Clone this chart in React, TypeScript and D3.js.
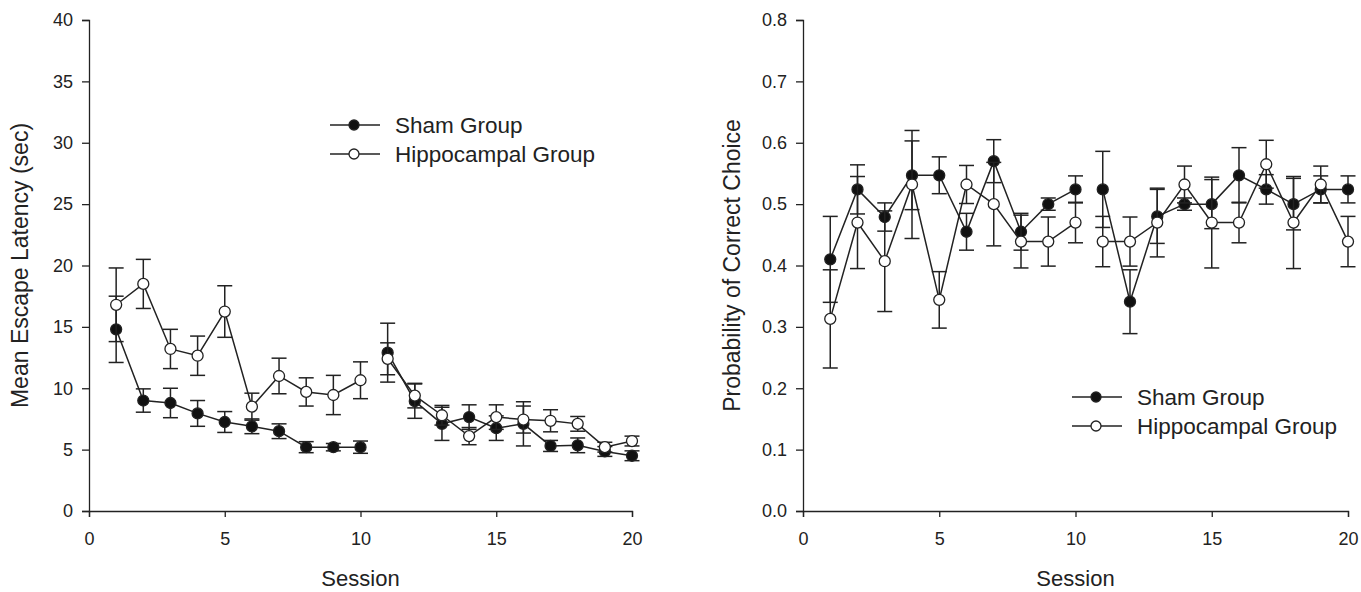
import React, { useEffect, useRef } from "react";
import * as d3 from "d3";

const sessions = [1, 2, 3, 4, 5, 6, 7, 8, 9, 10, 11, 12, 13, 14, 15, 16, 17, 18, 19, 20];

const shamLatency = [14.8, 9.0, 8.8, 7.95, 7.25, 6.9, 6.5, 5.2, 5.2, 5.2, 12.9, 8.95, 7.1, 7.65, 6.75, 7.1, 5.3, 5.35, 4.85, 4.5];
const shamLatencySE = [2.7, 0.95, 1.2, 1.05, 0.85, 0.6, 0.6, 0.45, 0.3, 0.5, 2.4, 1.4, 1.35, 1.0, 1.0, 1.8, 0.45, 0.6, 0.4, 0.4];
const hippoLatency = [16.8, 18.5, 13.2, 12.65, 16.25, 8.5, 11.0, 9.7, 9.45, 10.65, 12.4, 9.4, 7.8, 6.1, 7.65, 7.45, 7.35, 7.1, 5.2, 5.7];
const hippoLatencySE = [3.0, 2.0, 1.6, 1.6, 2.1, 1.1, 1.45, 1.15, 1.6, 1.5, 1.3, 1.0, 0.8, 0.7, 1.0, 1.1, 0.9, 0.6, 0.4, 0.4];

const shamProb = [0.41, 0.524, 0.479, 0.547, 0.547, 0.455, 0.57, 0.455, 0.5, 0.524, 0.524, 0.341, 0.48, 0.5, 0.5, 0.547, 0.524, 0.5, 0.524, 0.524];
const shamProbSE = [0.07, 0.04, 0.023, 0.056, 0.03, 0.03, 0.035, 0.03, 0.01, 0.022, 0.062, 0.052, 0.044, 0.01, 0.04, 0.045, 0.024, 0.042, 0.022, 0.022];
const hippoProb = [0.313, 0.47, 0.407, 0.532, 0.344, 0.532, 0.5, 0.439, 0.439, 0.47, 0.439, 0.439, 0.47, 0.532, 0.47, 0.47, 0.565, 0.47, 0.532, 0.439];
const hippoProbSE = [0.08, 0.075, 0.082, 0.088, 0.046, 0.031, 0.068, 0.043, 0.04, 0.033, 0.041, 0.04, 0.056, 0.03, 0.074, 0.033, 0.039, 0.075, 0.03, 0.041];

const xTicks = [0, 5, 10, 15, 20];
const latencyTicks = [0, 5, 10, 15, 20, 25, 30, 35, 40];
const probTicks = [0, 0.1, 0.2, 0.3, 0.4, 0.5, 0.6, 0.7, 0.8];
const legendLabels = ["Sham Group", "Hippocampal Group"];

const INK = "#222";
const FONT = "'Liberation Sans', Arial, sans-serif";

type Panel = {
  left: number;
  right: number;
  yMax: number;
  yTicks: number[];
  yFormat: (d: number) => string;
  yTitle: string;
  sham: number[];
  shamSE: number[];
  hippo: number[];
  hippoSE: number[];
  legendX: number;
  legendY: number;
  titleX: number;
};

const App = () => {
  const ref = useRef<SVGSVGElement>(null);

  useEffect(() => {
    const svg = d3.select(ref.current);
    svg.selectAll("*").remove();

    const top = 20;
    const bottom = 511;

    const panels: Panel[] = [
      {
        left: 89, right: 632, yMax: 40, yTicks: latencyTicks,
        yFormat: (d) => String(d), yTitle: "Mean Escape Latency (sec)",
        sham: shamLatency, shamSE: shamLatencySE, hippo: hippoLatency, hippoSE: hippoLatencySE,
        legendX: 330, legendY: 125, titleX: 22,
      },
      {
        left: 803, right: 1348, yMax: 0.8, yTicks: probTicks,
        yFormat: d3.format(".1f"), yTitle: "Probability of Correct Choice",
        sham: shamProb, shamSE: shamProbSE, hippo: hippoProb, hippoSE: hippoProbSE,
        legendX: 1072, legendY: 397, titleX: 734,
      },
    ];

    panels.forEach((p) => {
      const x = d3.scaleLinear().domain([0, 20]).range([p.left, p.right]);
      const y = d3.scaleLinear().domain([0, p.yMax]).range([bottom, top]);
      const g = svg.append("g");

      // axes
      const xAxis = g
        .append("g")
        .attr("transform", `translate(0, ${bottom})`)
        .call(d3.axisBottom(x).tickValues(xTicks).tickSizeOuter(0).tickSize(6).tickPadding(15));
      const yAxis = g
        .append("g")
        .attr("transform", `translate(${p.left}, 0)`)
        .call(d3.axisLeft(y).tickValues(p.yTicks).tickFormat(p.yFormat as any).tickSizeOuter(0).tickSize(7).tickPadding(9));
      [xAxis, yAxis].forEach((a) => {
        a.selectAll("path, line").attr("stroke", INK).attr("stroke-width", 1.3);
        a.selectAll("text").attr("fill", INK).attr("font-size", 18).attr("font-family", FONT);
      });

      g.append("text")
        .attr("x", (p.left + p.right) / 2)
        .attr("y", 586)
        .attr("text-anchor", "middle")
        .attr("font-size", 22)
        .attr("font-family", FONT)
        .attr("fill", INK)
        .text("Session");

      g.append("text")
        .attr("transform", `translate(${p.titleX}, ${(top + bottom) / 2}) rotate(-90)`)
        .attr("text-anchor", "middle")
        .attr("dominant-baseline", "middle")
        .attr("font-size", 23)
        .attr("font-family", FONT)
        .attr("fill", INK)
        .text(p.yTitle);

      const series = [
        { vals: p.sham, se: p.shamSE, fill: "#111" },
        { vals: p.hippo, se: p.hippoSE, fill: "#fff" },
      ];

      series.forEach((ser) => {
        const sg = g.append("g");
        const idx = sessions.map((_, i) => i);

        // error bars
        const eb = sg.append("g").attr("stroke", INK).attr("stroke-width", 1.5);
        eb.selectAll("line.v")
          .data(idx)
          .join("line")
          .attr("class", "v")
          .attr("x1", (i) => x(sessions[i]))
          .attr("x2", (i) => x(sessions[i]))
          .attr("y1", (i) => y(ser.vals[i] + ser.se[i]))
          .attr("y2", (i) => y(ser.vals[i] - ser.se[i]));
        eb.selectAll("line.cap")
          .data(idx.flatMap((i) => [[i, 1], [i, -1]]))
          .join("line")
          .attr("class", "cap")
          .attr("x1", ([i]) => x(sessions[i]) - 7.5)
          .attr("x2", ([i]) => x(sessions[i]) + 7.5)
          .attr("y1", ([i, s]) => y(ser.vals[i] + s * ser.se[i]))
          .attr("y2", ([i, s]) => y(ser.vals[i] + s * ser.se[i]));

        // connecting line, broken between session 10 and 11
        const path = d3
          .line<number>()
          .x((i) => x(sessions[i]))
          .y((i) => y(ser.vals[i]));
        [idx.filter((i) => sessions[i] <= 10), idx.filter((i) => sessions[i] > 10)].forEach((block) => {
          sg.append("path")
            .attr("d", path(block))
            .attr("fill", "none")
            .attr("stroke", INK)
            .attr("stroke-width", 1.5);
        });

        sg.selectAll("circle")
          .data(idx)
          .join("circle")
          .attr("cx", (i) => x(sessions[i]))
          .attr("cy", (i) => y(ser.vals[i]))
          .attr("r", 5.5)
          .attr("fill", ser.fill)
          .attr("stroke", INK)
          .attr("stroke-width", 1.3);
      });

      // legend
      const lg = g.append("g");
      legendLabels.forEach((label, k) => {
        const ly = p.legendY + k * 29;
        lg.append("line")
          .attr("x1", p.legendX)
          .attr("x2", p.legendX + 50)
          .attr("y1", ly)
          .attr("y2", ly)
          .attr("stroke", INK)
          .attr("stroke-width", 1.5);
        lg.append("circle")
          .attr("cx", p.legendX + 24)
          .attr("cy", ly)
          .attr("r", 5)
          .attr("fill", k === 0 ? "#111" : "#fff")
          .attr("stroke", INK)
          .attr("stroke-width", 1.3);
        lg.append("text")
          .attr("x", p.legendX + 65)
          .attr("y", ly)
          .attr("dominant-baseline", "central")
          .attr("font-size", 22.5)
          .attr("font-family", FONT)
          .attr("fill", INK)
          .text(label);
      });
    });
  });

  return (
    <div style={{ position: "absolute", left: 0, top: 0 }}>
      <svg ref={ref} width={1361} height={592} style={{ display: "block", background: "#fff" }}></svg>
    </div>
  );
};

export default App;
